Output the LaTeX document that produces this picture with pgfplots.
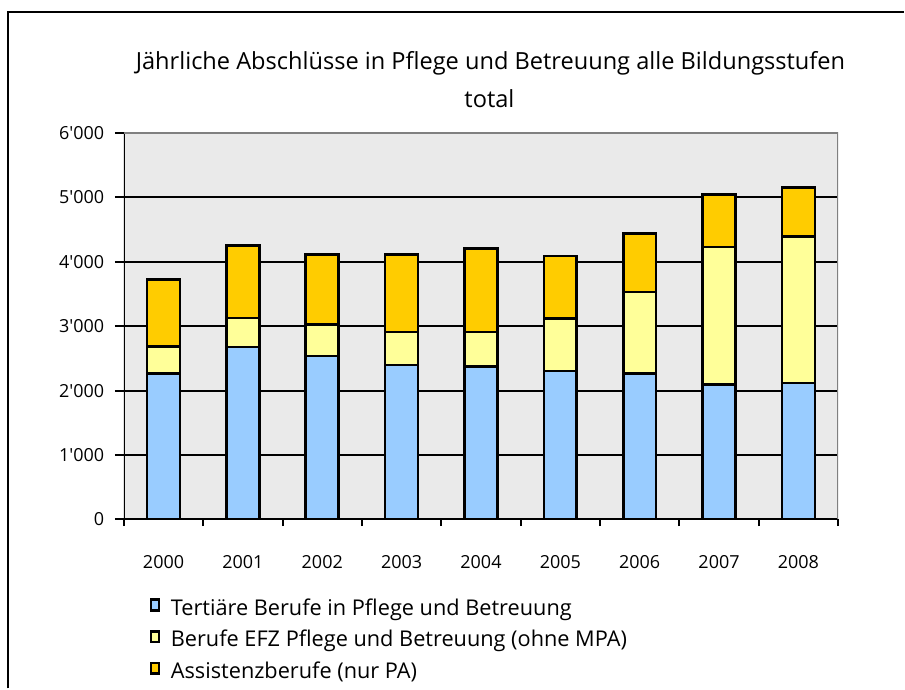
\documentclass[border=0pt]{standalone}
\usepackage{fontspec}
\setmainfont{Open Sans}
\usepackage{pgfplots}
\pgfplotsset{compat=1.18}
\definecolor{cblue}{HTML}{99CCFF}
\definecolor{cyel}{HTML}{FFFF99}
\definecolor{corange}{HTML}{FFCC00}
\definecolor{bgray}{HTML}{EAEAEA}
\definecolor{bordergray}{HTML}{808080}
\pgfplotsset{
  /pgfplots/ybar legend/.style={
    /pgfplots/legend image code/.code={\draw[##1,line width=2pt] (0pt,0pt) rectangle (7pt,7pt);}
  }
}
\begin{document}
\begin{tikzpicture}
\path (0,0) rectangle (678.75pt,-516.75pt);
\draw[line width=1.5pt] (6pt,-516.75pt) -- (6pt,-9pt) -- (678.75pt,-9pt);
\node[anchor=base, inner sep=0pt, font=\fontsize{17.7}{20}\selectfont] at (368.25pt,-52.5pt) {Jährliche Abschlüsse in Pflege und Betreuung alle Bildungsstufen};
\node[anchor=base, inner sep=0pt, font=\fontsize{17.7}{20}\selectfont] at (367.5pt,-81pt) {total};
\begin{axis}[
  at={(93pt,-390pt)}, anchor=south west,
  scale only axis, width=536.25pt, height=290.25pt,
  ybar stacked, bar width=24.75pt,
  xmin=-0.5, xmax=8.5, ymin=0, ymax=6000,
  xtick={0,...,8}, xticklabels={2000,2001,2002,2003,2004,2005,2006,2007,2008},
  major x tick style={draw=none},
  minor xtick={-0.5,0.5,...,8.5},
  minor x tick style={black, line width=1.5pt},
  minor tick length=5pt,
  ytick={0,1000,...,6000},
  major y tick style={black, line width=1.5pt},
  major tick length=6.75pt,
  xtick pos=bottom, ytick pos=left,
  tick align=outside,
  ymajorgrids, grid style={black, line width=1.5pt},
  axis background/.style={fill=bgray},
  axis line style={draw=none},
  /pgf/number format/assume math mode=true,
  /pgf/number format/1000 sep={\textquotesingle},
  tick label style={font=\fontsize{13.5}{16}\selectfont},
  xticklabel style={yshift=-17pt},
  yticklabel style={xshift=-4.5pt},
  legend style={at={(0.03,-0.19)}, anchor=north west, draw=none, fill=none,
    font=\fontsize{16.3}{19}\selectfont, row sep=5.7pt, column sep=6pt},
  legend cell align=left,
]
\addplot[fill=cblue, draw=black, line width=2pt] coordinates {(0,2263) (1,2675) (2,2536) (3,2397) (4,2376) (5,2304) (6,2263) (7,2098) (8,2119)};
\addplot[fill=cyel, draw=black, line width=2pt] coordinates {(0,417) (1,454) (2,490) (3,510) (4,531) (5,815) (6,1268) (7,2129) (8,2273)};
\addplot[fill=corange, draw=black, line width=2pt] coordinates {(0,1042) (1,1124) (2,1087) (3,1201) (4,1294) (5,969) (6,902) (7,814) (8,763)};
\legend{Tertiäre Berufe in Pflege und Betreuung, Berufe EFZ Pflege und Betreuung (ohne MPA), Assistenzberufe (nur PA)}
\draw[bordergray, line width=1.5pt] (rel axis cs:0,1) -- (rel axis cs:1,1) -- (rel axis cs:1,0);
\draw[black, line width=2pt] (rel axis cs:0,1) -- (rel axis cs:0,0) -- (rel axis cs:1,0);
\end{axis}
\end{tikzpicture}
\end{document}
